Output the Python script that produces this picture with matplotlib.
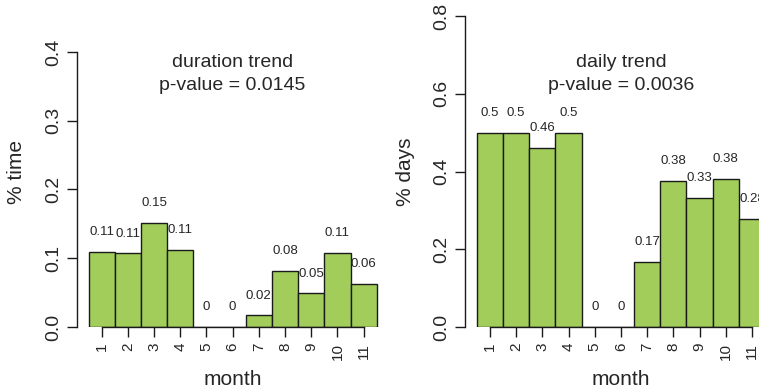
import matplotlib
matplotlib.use('Agg')
import matplotlib.pyplot as plt

plt.rcParams['font.family'] = ['Liberation Sans', 'DejaVu Sans']

months = ['1', '2', '3', '4', '5', '6', '7', '8', '9', '10', '11']

duration_values = [0.109, 0.107, 0.152, 0.112, 0.0, 0.0, 0.017, 0.082, 0.049, 0.108, 0.063]
duration_labels = ['0.11', '0.11', '0.15', '0.11', '0', '0', '0.02', '0.08', '0.05', '0.11', '0.06']
duration_yticks = [0.0, 0.1, 0.2, 0.3, 0.4]

daily_values = [0.5, 0.5, 0.461, 0.5, 0.0, 0.0, 0.167, 0.375, 0.333, 0.381, 0.278]
daily_labels = ['0.5', '0.5', '0.46', '0.5', '0', '0', '0.17', '0.38', '0.33', '0.38', '0.28']
daily_yticks = [0.0, 0.2, 0.4, 0.6, 0.8]

W, H = 759, 388
TXT = '#262626'
FILL = '#A2CD5A'

fig = plt.figure(figsize=(W / 100, H / 100), dpi=100)


def panel(left_px, values, labels, yticks, ytop, ylabel, title, pval):
    ax = fig.add_axes([left_px / W, (H - 327) / H, 311.3 / W, 311 / H])
    xs = [i + 0.5 for i in range(len(values))]
    ax.bar(xs, values, width=1.0, color=FILL, edgecolor='#1a1a1a', linewidth=1.0)
    for x, v, lab in zip(xs, values, labels):
        ax.annotate(lab, (x, v), xytext=(0, 14.2), textcoords='offset points',
                    ha='center', va='center', fontsize=9.5, color=TXT)
    ax.set_xlim(-0.44, len(values) + 0.44)
    ax.set_ylim(0, ytop)
    for s in ['top', 'right']:
        ax.spines[s].set_visible(False)
    ax.spines['left'].set_bounds(yticks[0], yticks[-1])
    ax.spines['bottom'].set_bounds(xs[0], xs[-1])
    for s in ['left', 'bottom']:
        ax.spines[s].set_color('#1a1a1a')
        ax.spines[s].set_linewidth(1.0)
    ax.set_xticks(xs)
    ax.set_xticklabels(months, rotation=90, fontsize=11, color=TXT, va='top', ha='center')
    ax.set_yticks(yticks)
    ax.set_yticklabels([f'{t:.1f}' for t in yticks], rotation=90, fontsize=14,
                       color=TXT, va='center', ha='center')
    ax.tick_params(axis='x', length=7, width=1.0, pad=4.5, color='#1a1a1a')
    ax.tick_params(axis='y', length=7, width=1.0, pad=10, color='#1a1a1a')
    ax.set_facecolor('none')
    cx = (left_px + 311.3 / 2) / W
    fig.text(cx, 1 - 67 / H, title, ha='center', va='baseline', fontsize=14, color=TXT)
    fig.text(cx, 1 - 90 / H, pval, ha='center', va='baseline', fontsize=14, color=TXT)
    fig.text(cx, 1 - 385 / H, 'month', ha='center', va='baseline', fontsize=15, color=TXT)
    fig.text((left_px - 60) / W, 1 - 171.5 / H, ylabel, ha='center', va='center',
             rotation=90, fontsize=15, color=TXT)
    return ax


panel(77, duration_values, duration_labels, duration_yticks, 0.4 * 311 / 275,
      '% time', 'duration trend', 'p-value = 0.0145')
panel(465.3, daily_values, daily_labels, daily_yticks, 0.8,
      '% days', 'daily trend', 'p-value = 0.0036')

fig.savefig('out.png', dpi=100)
